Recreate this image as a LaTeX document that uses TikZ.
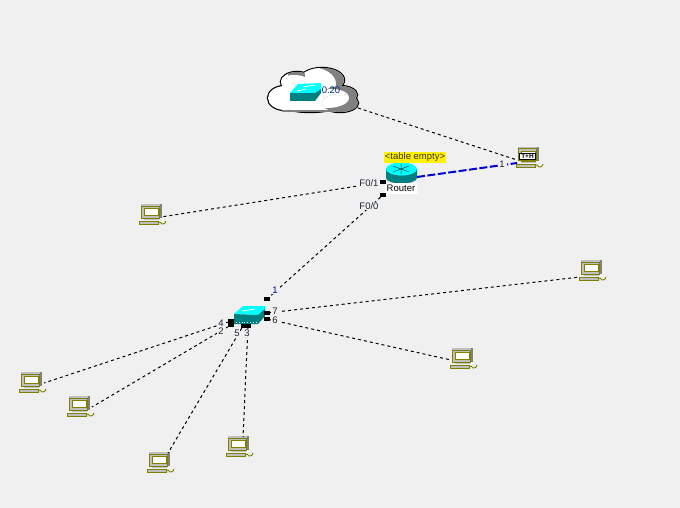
\documentclass[tikz,border=0pt]{standalone}
\usepackage{fontspec}
\setmainfont{Liberation Sans}
\definecolor{bgc}{HTML}{F0F0F0}
\definecolor{olive1}{HTML}{808000}
\definecolor{pcgray}{HTML}{C0C0C0}
\definecolor{cy}{HTML}{00FFFF}
\definecolor{tl}{HTML}{008080}
\definecolor{lab}{HTML}{1C2433}
\tikzset{
  x=1pt,y=-1pt,
  lnk/.style={draw=black,dash pattern=on 3pt off 3pt,line width=1pt},
  blink/.style={draw=blue!85!black,dash pattern=on 8pt off 2.5pt,line width=2pt},
  port/.style={fill=black,minimum width=6pt,minimum height=4pt,inner sep=0pt,draw=none},
  lbl/.style={font=\fontsize{9.5}{9.5}\selectfont,text=lab,inner sep=1pt,fill=bgc,minimum width=9pt},
  anchorpt/.style={inner sep=0pt,minimum size=0pt},
  pc/.pic={
    \fill[pcgray] (-10,-10) -- (11,-10) -- (11,4) -- (-10,4) -- cycle;
    \fill[gray] (9,-10) rectangle (11,4);
    \draw[olive1,line width=1pt] (-9.5,-8) rectangle (8.5,4);
    \fill[white] (-7,-6) rectangle (7,1);
    \draw[olive1,line width=.7pt] (-7,-6) rectangle (7,1.5);
    \fill[pcgray] (-7,4) rectangle (8,6);
    \draw[olive1,line width=.8pt] (-7,4.5) -- (8,4.5);
    \fill[pcgray] (-12,7) rectangle (7,10);
    \draw[olive1,line width=.9pt] (-12,10) -- (-12,7) -- (7,7) -- (7,10) -- cycle;
    \draw[olive1,line width=.9pt] (7,9) .. controls (10,6) and (10,11) .. (12,10) .. controls (14,10) and (14,9) .. (15,7);
  },
}
\newcommand{\lobes}[1]{%
  \path[#1] (285,98) ellipse[x radius=17pt,y radius=12pt];
  \path[#1] (297,82) ellipse[x radius=16pt,y radius=10pt];
  \path[#1] (322,80) ellipse[x radius=22pt,y radius=12pt];
  \path[#1] (340,95) ellipse[x radius=17pt,y radius=9pt];
  \path[#1] (340,103) ellipse[x radius=18pt,y radius=9pt];
  \path[#1] (310,100) ellipse[x radius=35pt,y radius=12pt];
}
\begin{document}
\begin{tikzpicture}
\useasboundingbox[fill=bgc] (0,0) rectangle (680,508);

% cloud
\lobes{draw=black,line width=2.4pt}
\lobes{fill=white}
\begin{scope}
  \clip (322,80) ellipse[x radius=22pt,y radius=12pt];
  \fill[gray] (295,65) rectangle (350,95);
  \fill[white] (310,84) ellipse[x radius=26pt,y radius=17pt];
\end{scope}
\begin{scope}
  \clip (340,95) ellipse[x radius=17pt,y radius=9pt];
  \fill[gray] (320,84) rectangle (360,106);
  \fill[white] (332,99) ellipse[x radius=18pt,y radius=10pt];
\end{scope}
\begin{scope}
  \clip (340,103) ellipse[x radius=18pt,y radius=9pt];
  \fill[gray] (320,92) rectangle (360,114);
  \fill[white] (327,98) ellipse[x radius=22pt,y radius=10pt];
\end{scope}
\begin{scope}
  \clip (297,82) ellipse[x radius=16pt,y radius=10pt];
  \fill[gray] (288,70) rectangle (305,78);
  \fill[white] (294,84) ellipse[x radius=17pt,y radius=9pt];
\end{scope}
\fill[gray] (282,110.5) rectangle (335,112);

% cloud switch
\node[anchorpt] (cloudsw) at (305,92) {};
\fill[cy] (290,93) -- (298,84) -- (321,83) -- (321,89) -- (315,93) -- cycle;
\fill[tl] (290,93) rectangle (315,101);
\fill[tl] (315,93) -- (321,89) -- (321,93) -- (315,101) -- cycle;
\draw[white,line width=.8pt] (297,91) -- (306,89) (303,87) -- (315,85);
\node[font=\fontsize{9.5}{9.5}\selectfont,text=tl!50!blue!70!black,inner sep=0pt] (cloudlbl) at (331,90.5) {0.20};
\coordinate (cloudend) at (358,108);

% PCs
\foreach \n/\x/\y in {pca/151/214,pcb/591/270,pcc/462/358,pcd/31/382,pce/79/406,pcf/159/462,pcg/238/446,pch/528/157}{
  \node[anchorpt] (\n) at (\x,\y) {};
  \pic at (\x,\y) {pc};
}
\node[font=\bfseries\fontsize{6.5}{6.5}\selectfont,fill=white,draw=black,line width=.6pt,inner sep=.6pt,minimum width=16pt] (thl) at (527.5,156) {T+H};

% router
\fill[tl] (386,169) -- (386,178) arc[start angle=180,end angle=360,x radius=15.5pt,y radius=5.5pt] -- (417,169) -- cycle;
\fill[cy] (401.5,169) ellipse[x radius=15.5pt,y radius=6.5pt];
\draw[tl!50!black,line width=.5pt] (393,166) -- (409,172) (393,172) -- (409,166) (401,164) -- (401,174);
\node[fill=white,font=\fontsize{9.5}{9.5}\selectfont,text=black,inner sep=0pt,minimum width=32pt,minimum height=11pt] (router) at (401,188.5) {Router};
\node[fill=yellow,font=\fontsize{9.5}{9.5}\selectfont,text=black!80!olive,inner sep=0pt,minimum width=62pt,minimum height=11pt] (tbl) at (415,157.5) {<table empty>};
\node[port] (f01) at (383,182) {};
\node[port] (f00) at (383,195) {};
\coordinate (routerr) at (417,177);
\coordinate (thleft) at (517,163);
\coordinate (thtop) at (517,160);

% switch
\fill[cy] (234,314) -- (243,306) -- (265,306) -- (265,309) -- (258,315) -- cycle;
\fill[tl] (234,314) -- (258,315) -- (258,324) -- (234,324) -- cycle;
\fill[tl] (258,315) -- (265,309) -- (265,316) -- (258,324) -- cycle;
\draw[white,line width=.7pt] (242,311) -- (255,309);
\draw[white,dotted,line width=.8pt] (236,322) -- (256,322);
\node[anchorpt] (sw) at (249,315) {};

\node[port] (p1) at (267,299) {};
\node[port] (p7) at (267,313) {};
\node[port] (p6) at (267,319) {};
\node[port] (p4) at (231,321) {};
\node[port] (p2) at (231,325) {};
\node[port,minimum width=5pt] (p5) at (243,326) {};
\node[port,minimum width=5pt] (p3) at (248,326) {};

% connectors
\draw[lnk] (cloudend) -- (thtop);
\draw[lnk] (f01) -- ([shift={(10,3)}]pca.center);
\draw[lnk] (f00) -- (p1);
\draw[lnk] (p7) -- ([shift={(-11,7)}]pcb.center);
\draw[lnk] (p6) -- ([shift={(-11,2)}]pcc.center);
\draw[lnk] (p4) -- ([shift={(13,1)}]pcd.center);
\draw[lnk] (p2) -- ([shift={(13,1)}]pce.center);
\draw[lnk] (p5) -- ([shift={(9,-9)}]pcf.center);
\draw[lnk] (p3) -- ([shift={(5,-9)}]pcg.center);
\draw[blink] (routerr) -- (thleft);

% labels, over the connectors
\node[lbl] (lf01) at (369,183) {F0/1};
\node[lbl] (lf00) at (369,206) {F0/0};
\node[lbl,text=blue!70!black] (l1) at (275,290) {1};
\node[lbl] (l7) at (275,311) {7};
\node[lbl] (l6) at (275,320) {6};
\node[lbl] (l4) at (221,323) {4};
\node[lbl] (l2) at (221,331) {2};
\node[lbl,minimum width=6pt,inner sep=.5pt] (l5) at (237,333) {5};
\node[lbl,minimum width=6pt,inner sep=.5pt] (l3) at (247,333) {3};
\node[lbl] (lth) at (502,164) {1};
\end{tikzpicture}
\end{document}
